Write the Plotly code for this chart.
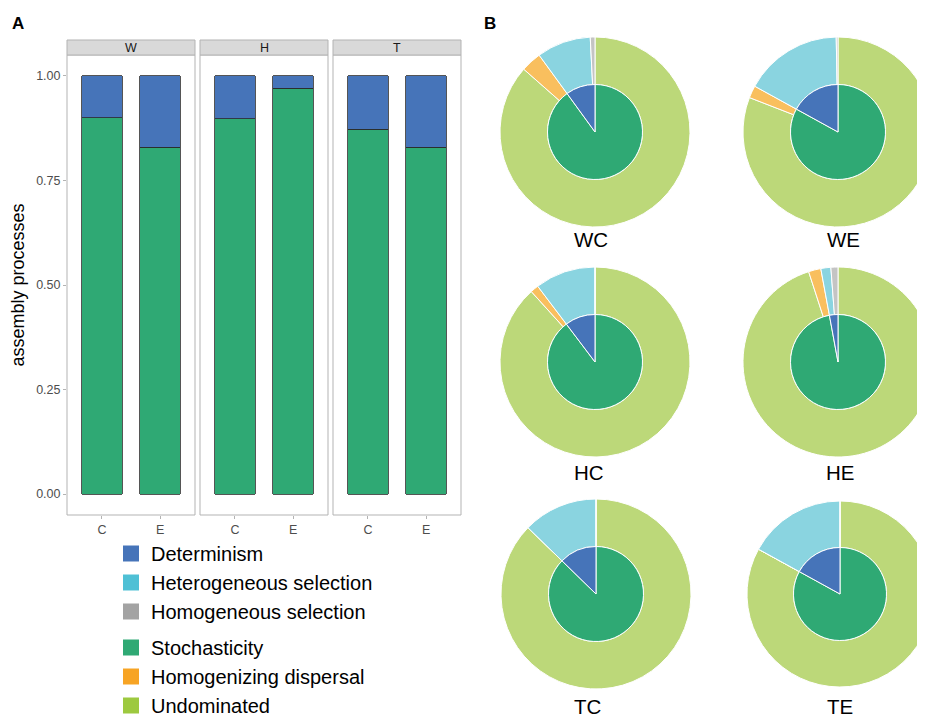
import plotly.graph_objects as go

W, H = 925, 717
FONT = "Liberation Sans, Arial, sans-serif"
OFF = 8  # page body margin: screen = figure + 8

# ---------------- data ----------------
samples = ["WC", "WE", "HC", "HE", "TC", "TE"]
facets = ["W", "H", "T"]
treatments = ["C", "E"]

# inner ring / bar chart
determinism = [0.100, 0.170, 0.103, 0.029, 0.127, 0.170]
stochasticity = [0.900, 0.830, 0.897, 0.971, 0.873, 0.830]

# outer ring
homogeneous_selection = [0.008, 0.003, 0.000, 0.012, 0.000, 0.000]
heterogeneous_selection = [0.092, 0.167, 0.103, 0.017, 0.127, 0.170]
homogenizing_dispersal = [0.035, 0.021, 0.014, 0.021, 0.000, 0.000]
undominated = [0.865, 0.809, 0.883, 0.950, 0.873, 0.830]

y_ticks = [0, 0.25, 0.5, 0.75, 1.0]
y_ticklabels = ["0.00", "0.25", "0.50", "0.75", "1.00"]

# colours
C_DET = "#4674B9"
C_STO = "#2FA974"
leg_colors = {
    "Determinism": "#4674B9",
    "Heterogeneous selection": "#4FC0D5",
    "Homogeneous selection": "#A3A3A3",
    "Stochasticity": "#2FA974",
    "Homogenizing dispersal": "#F7A424",
    "Undominated": "#9DC93F",
}
pie_outer_colors = ["#BCD879", "#F9BF5E", "#8AD4E0", "#C4C4C4"]
pie_outer_labels = ["Undominated", "Homogenizing dispersal",
                    "Heterogeneous selection", "Homogeneous selection"]
pie_inner_colors = [C_STO, C_DET]
pie_inner_labels = ["Stochasticity", "Determinism"]

fig = go.Figure()


def px_x(s):  # screen pixel x -> paper fraction
    return (s - OFF) / W


def px_y(s):  # screen pixel y (from top) -> paper fraction from bottom
    return (H - (s - OFF)) / H


# ---------------- panel A: bars ----------------
facet_dom = [(67, 195), (200, 328), (333, 461)]
ydom = [px_y(515), px_y(55)]
xaxes = ["x", "x2", "x3"]
for i, f in enumerate(facets):
    idx = [2 * i, 2 * i + 1]
    xa = xaxes[i]
    fig.add_trace(go.Bar(
        x=treatments, y=[stochasticity[j] for j in idx],
        name="Stochasticity", marker=dict(color=C_STO, line=dict(color="#2b2b2b", width=0.8)),
        width=0.7, xaxis=xa, yaxis="y", showlegend=False))
    fig.add_trace(go.Bar(
        x=treatments, y=[determinism[j] for j in idx],
        name="Determinism", marker=dict(color=C_DET, line=dict(color="#2b2b2b", width=0.8)),
        width=0.7, xaxis=xa, yaxis="y", showlegend=False))

axis_common = dict(
    type="category", categoryorder="array", categoryarray=treatments,
    range=[-0.6, 1.6], showgrid=False, zeroline=False, showline=False,
    ticks="outside", ticklen=3, tickcolor="#b3b3b3",
    tickfont=dict(family=FONT, size=12.5, color="#4d4d4d"), anchor="y",
)
fig.update_layout(
    xaxis=dict(domain=[px_x(facet_dom[0][0]), px_x(facet_dom[0][1])], **axis_common),
    xaxis2=dict(domain=[px_x(facet_dom[1][0]), px_x(facet_dom[1][1])], **axis_common),
    xaxis3=dict(domain=[px_x(facet_dom[2][0]), px_x(facet_dom[2][1])], **axis_common),
    yaxis=dict(domain=ydom, range=[-0.05, 1.05], anchor="x",
               tickvals=y_ticks, ticktext=y_ticklabels,
               showgrid=False, zeroline=False, showline=False,
               ticks="outside", ticklen=3, tickcolor="#b3b3b3",
               tickfont=dict(family=FONT, size=12.5, color="#4d4d4d"),
               title=dict(text="assembly processes", font=dict(family=FONT, size=18, color="black"),
                          standoff=7)),
    barmode="stack",
)

shapes = []
annotations = []
for i, f in enumerate(facets):
    xr = f"{xaxes[i]} domain"
    shapes.append(dict(type="rect", xref=xr, yref="paper", x0=0, x1=1,
                       y0=ydom[0], y1=ydom[1], line=dict(color="#b3b3b3", width=1),
                       fillcolor="rgba(0,0,0,0)", layer="above"))
    shapes.append(dict(type="rect", xref=xr, yref="paper", x0=0, x1=1,
                       y0=px_y(55), y1=px_y(40), line=dict(color="#b3b3b3", width=1),
                       fillcolor="#d9d9d9", layer="above"))
    annotations.append(dict(text=f, xref=xr, yref="paper", x=0.5, y=px_y(47.5),
                            showarrow=False, font=dict(family=FONT, size=12.5, color="#1a1a1a"),
                            xanchor="center", yanchor="middle"))

# ---------------- legend (entries) ----------------
for name in ["Determinism", "Heterogeneous selection", "Homogeneous selection"]:
    fig.add_trace(go.Scatter(x=[None], y=[None], mode="markers", name=name,
                             legendgroup="det",
                             marker=dict(symbol="square", size=16, color=leg_colors[name],
                                         line=dict(width=0))))
for name in ["Stochasticity", "Homogenizing dispersal", "Undominated"]:
    fig.add_trace(go.Scatter(x=[None], y=[None], mode="markers", name=name,
                             legendgroup="sto",
                             marker=dict(symbol="square", size=16, color=leg_colors[name],
                                         line=dict(width=0))))

# ---------------- panel B: pies ----------------
centers = {
    "WC": (595, 132), "WE": (838, 132),
    "HC": (595, 362), "HE": (838, 362),
    "TC": (596, 594), "TE": (840, 594),
}
label_pos = {
    "WC": (591, 240), "WE": (843, 240),
    "HC": (589, 472), "HE": (840, 472),
    "TC": (588, 706), "TE": (840, 706),
}
R = 95
for k, s in enumerate(samples):
    cx, cy = centers[s]
    r = min(R, W + OFF - cx)
    outer_dom = dict(x=[px_x(cx - r), min(1.0, px_x(cx + r))], y=[px_y(cy + r), px_y(cy - r)])
    ri = r / 2
    inner_dom = dict(x=[px_x(cx - ri), px_x(cx + ri)], y=[px_y(cy + ri), px_y(cy - ri)])
    fig.add_trace(go.Pie(
        labels=pie_outer_labels,
        values=[undominated[k], homogenizing_dispersal[k],
                heterogeneous_selection[k], homogeneous_selection[k]],
        marker=dict(colors=pie_outer_colors, line=dict(color="white", width=1)),
        hole=0.5, sort=False, direction="clockwise", rotation=0,
        textinfo="none", showlegend=False, domain=outer_dom, name=s))
    fig.add_trace(go.Pie(
        labels=pie_inner_labels,
        values=[stochasticity[k], determinism[k]],
        marker=dict(colors=pie_inner_colors, line=dict(color="white", width=1)),
        sort=False, direction="clockwise", rotation=0,
        textinfo="none", showlegend=False, domain=inner_dom, name=s))
    lx, ly = label_pos[s]
    annotations.append(dict(text=s, xref="paper", yref="paper",
                            x=px_x(lx), y=px_y(ly),
                            showarrow=False, xanchor="center", yanchor="middle",
                            font=dict(family=FONT, size=20.5, color="black")))

annotations.append(dict(text="<b>A</b>", xref="paper", yref="paper", x=px_x(10), y=px_y(23),
                        showarrow=False, xanchor="left", yanchor="middle",
                        font=dict(family=FONT, size=17, color="black")))
annotations.append(dict(text="<b>B</b>", xref="paper", yref="paper", x=px_x(482), y=px_y(23),
                        showarrow=False, xanchor="left", yanchor="middle",
                        font=dict(family=FONT, size=17, color="black")))

fig.update_layout(
    width=W, height=H,
    margin=dict(l=0, r=0, t=0, b=0, autoexpand=False),
    paper_bgcolor="white", plot_bgcolor="white",
    shapes=shapes, annotations=annotations,
    legend=dict(x=px_x(111), y=px_y(534), xanchor="left", yanchor="top",
                traceorder="grouped", tracegroupgap=7,
                font=dict(family=FONT, size=20, color="black"),
                bgcolor="rgba(0,0,0,0)", itemwidth=30),
    font=dict(family=FONT),
)

fig.write_html("out.html")
